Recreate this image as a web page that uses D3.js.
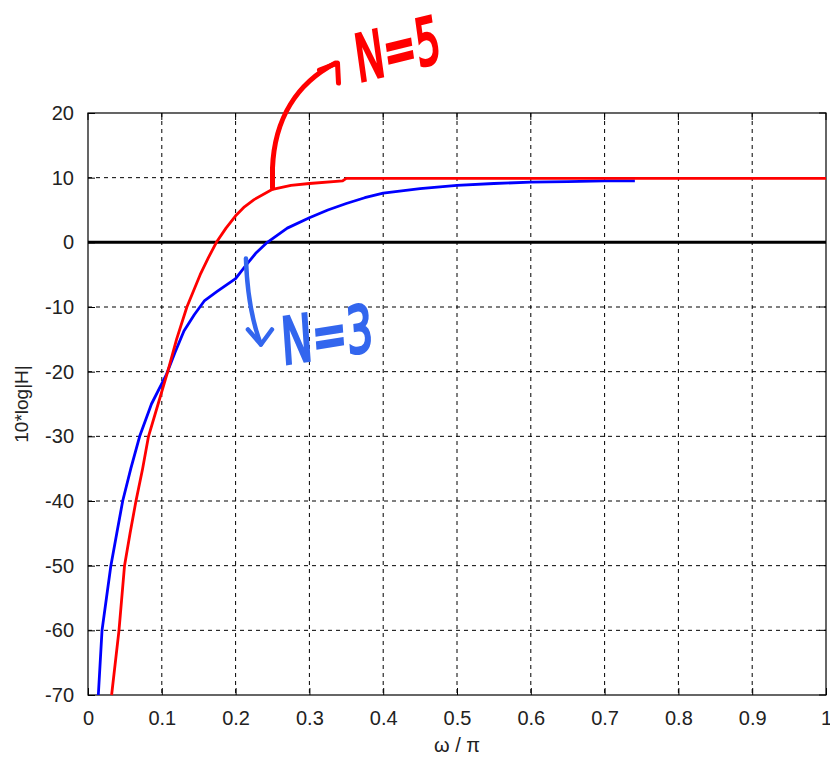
<!DOCTYPE html>
<html lang="en">
<head>
<meta charset="utf-8">
<title>10*log|H| vs w/pi</title>
<script src="https://d3js.org/d3.v7.min.js"></script>
<style>
  body { margin: 0; background: #fff; }
  text { font-family: "Liberation Sans", Arial, sans-serif; fill: #222; }
</style>
</head>
<body>
<div id="chart"></div>
<script>
// tick values
var xTicks = [0, 0.1, 0.2, 0.3, 0.4, 0.5, 0.6, 0.7, 0.8, 0.9, 1];
var yTicks = [20, 10, 0, -10, -20, -30, -40, -50, -60, -70];

// N=3 (blue)
var blueX = [0.014, 0.019, 0.025, 0.031, 0.039, 0.047, 0.058, 0.07, 0.086, 0.106, 0.118, 0.13, 0.144, 0.158, 0.175, 0.2, 0.215, 0.228, 0.243, 0.27, 0.3, 0.325, 0.35, 0.375, 0.4, 0.45, 0.5, 0.55, 0.6, 0.65, 0.7, 0.741];
var blueY = [-70, -60, -55, -50, -45, -40, -35, -30, -25, -20.5, -17, -13.7, -11.2, -9, -7.6, -5.6, -3.4, -1.6, 0, 2.2, 3.8, 5.0, 6.0, 6.9, 7.6, 8.3, 8.8, 9.1, 9.3, 9.4, 9.5, 9.5];

// N=5 (red)
var redX = [0.032, 0.042, 0.0495, 0.057, 0.065, 0.074, 0.082, 0.095, 0.108, 0.12, 0.134, 0.152, 0.163, 0.174, 0.187, 0.2, 0.212, 0.225, 0.25, 0.275, 0.3, 0.345, 0.35, 1.0];
var redY = [-70, -60, -50, -45, -40, -35, -30, -25, -20, -15, -10, -5, -2.4, 0, 2.2, 4.1, 5.5, 6.6, 8.2, 8.8, 9.1, 9.5, 9.9, 9.9];

var margin = {top: 113, right: 4, bottom: 64, left: 88};
var W = 830, H = 759;
var width = W - margin.left - margin.right;
var height = H - margin.top - margin.bottom;

var svg = d3.select("#chart").append("svg")
    .attr("width", W)
    .attr("height", H);
var g = svg.append("g")
    .attr("transform", "translate(" + margin.left + "," + margin.top + ")");

var x = d3.scaleLinear().domain([0, 1]).range([0, width]);
var y = d3.scaleLinear().domain([-70, 20]).range([height, 0]);

// grid
g.append("g").selectAll("line.vg")
  .data(xTicks.slice(1, -1))
  .enter().append("line")
    .attr("x1", d => x(d)).attr("x2", d => x(d))
    .attr("y1", 0).attr("y2", height)
    .attr("stroke", "#000").attr("stroke-width", 1)
    .attr("stroke-dasharray", "4,4");
g.append("g").selectAll("line.hg")
  .data(yTicks.slice(1, -1))
  .enter().append("line")
    .attr("y1", d => y(d)).attr("y2", d => y(d))
    .attr("x1", 0).attr("x2", width)
    .attr("stroke", "#000").attr("stroke-width", 1)
    .attr("stroke-dasharray", "4,4");

// axes (ticks inside like MATLAB)
var fmt = d => String(d);
var xAxis = g.append("g")
  .attr("transform", "translate(0," + height + ")")
  .call(d3.axisBottom(x).tickValues(xTicks).tickSize(-7).tickPadding(16).tickFormat(fmt));
var yAxis = g.append("g")
  .call(d3.axisLeft(y).tickValues(yTicks).tickSize(-7).tickPadding(14).tickFormat(fmt));
[xAxis, yAxis].forEach(function (a) {
  a.select(".domain").remove();
  a.selectAll("line").attr("stroke", "#000");
  a.selectAll("text").style("font-size", "20px").attr("fill", "#222");
});
// top/right ticks
g.append("g").selectAll("line")
  .data(xTicks).enter().append("line")
  .attr("x1", d => x(d)).attr("x2", d => x(d)).attr("y1", 0).attr("y2", 7)
  .attr("stroke", "#000");
g.append("g").selectAll("line")
  .data(yTicks).enter().append("line")
  .attr("y1", d => y(d)).attr("y2", d => y(d)).attr("x1", width).attr("x2", width - 7)
  .attr("stroke", "#000");

// frame
g.append("rect")
  .attr("width", width).attr("height", height)
  .attr("fill", "none").attr("stroke", "#000").attr("stroke-width", 1.2);

// zero line
g.append("line")
  .attr("x1", 0).attr("x2", width)
  .attr("y1", y(0)).attr("y2", y(0))
  .attr("stroke", "#000").attr("stroke-width", 3);

// curves
var line = d3.line().x(d => x(d[0])).y(d => y(d[1]));
g.append("path")
  .datum(d3.zip(blueX, blueY))
  .attr("d", line)
  .attr("fill", "none").attr("stroke", "#0000ff").attr("stroke-width", 2.8)
  .attr("stroke-linejoin", "round");
g.append("path")
  .datum(d3.zip(redX, redY))
  .attr("d", line)
  .attr("fill", "none").attr("stroke", "#ff0000").attr("stroke-width", 2.8)
  .attr("stroke-linejoin", "round");

// axis labels
svg.append("text")
  .attr("x", margin.left + width / 2).attr("y", 752)
  .attr("text-anchor", "middle")
  .style("font-size", "20px")
  .text("ω / π");
svg.append("text")
  .attr("transform", "translate(28," + (margin.top + y(-25)) + ") rotate(-90)")
  .attr("text-anchor", "middle")
  .style("font-size", "19px")
  .text("10*log|H|");

// hand drawn annotations
var ann = svg.append("g").attr("transform", "translate(" + margin.left + "," + margin.top + ")");
var rx = x(0.25), ry = y(8.4);
ann.append("path")
  .attr("d", "M" + rx + "," + ry + " L" + rx + "," + (ry - 20) +
        " C" + (rx + 2) + "," + (ry - 70) + " " + (rx + 25) + "," + (ry - 105) + " " + (rx + 63) + "," + (ry - 125))
  .attr("fill", "none").attr("stroke", "#ff0000").attr("stroke-width", 5).attr("stroke-linecap", "round");
ann.append("path")
  .attr("d", "M" + (rx + 47) + "," + (ry - 118) + " L" + (rx + 65) + "," + (ry - 125) + " L" + (rx + 66) + "," + (ry - 105))
  .attr("fill", "none").attr("stroke", "#ff0000").attr("stroke-width", 5)
  .attr("stroke-linecap", "round").attr("stroke-linejoin", "round");
ann.append("text")
  .attr("transform", "translate(" + (rx + 86) + "," + (ry - 106) + ") rotate(-14) skewX(-6) scale(0.61,1)")
  .style("font-family", "'DejaVu Sans', sans-serif")
  .style("font-size", "64px")
  .style("fill", "#ff0000")
  .style("stroke", "#ff0000")
  .style("stroke-width", 3)
  .text("N=5");

var bx = x(0.214), by = y(-2.5);
ann.append("path")
  .attr("d", "M" + bx + "," + by + " C" + (bx + 1) + "," + (by + 30) + " " + (bx + 5) + "," + (by + 60) + " " + (bx + 15) + "," + (by + 86))
  .attr("fill", "none").attr("stroke", "#3366ee").attr("stroke-width", 4.5).attr("stroke-linecap", "round");
ann.append("path")
  .attr("d", "M" + (bx + 2) + "," + (by + 71) + " L" + (bx + 15) + "," + (by + 86) + " L" + (bx + 26) + "," + (by + 71))
  .attr("fill", "none").attr("stroke", "#3366ee").attr("stroke-width", 4.5)
  .attr("stroke-linecap", "round").attr("stroke-linejoin", "round");
ann.append("text")
  .attr("transform", "translate(" + (bx + 37) + "," + (by + 106) + ") rotate(-9) skewX(-5) scale(0.65,1)")
  .style("font-family", "'DejaVu Sans', sans-serif")
  .style("font-size", "64px")
  .style("fill", "#3366ee")
  .style("stroke", "#3366ee")
  .style("stroke-width", 3)
  .text("N=3");
</script>
</body>
</html>
